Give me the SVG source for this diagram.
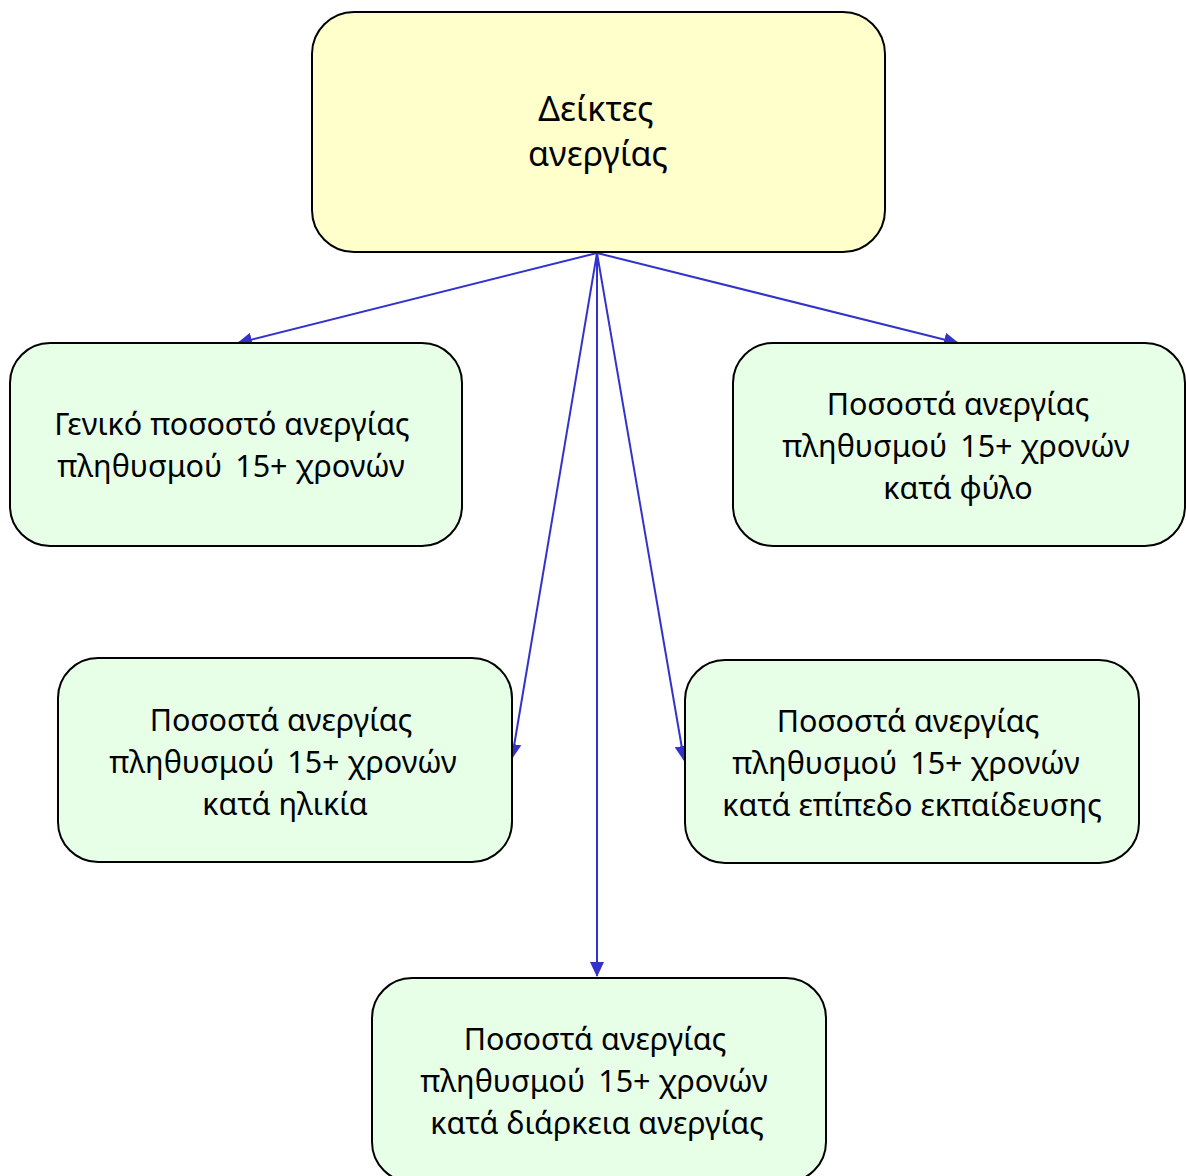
<svg xmlns="http://www.w3.org/2000/svg" width="1186" height="1176" viewBox="0 0 1186 1176">
<style>
.node{stroke:#000;stroke-width:2}
.root{fill:#FFFFCC}
.child{fill:#E6FFE6}
text{font-family:"Noto Sans","Open Sans","DejaVu Sans",sans-serif;fill:#000;text-anchor:middle}
.t{font-size:30.5px}
.rt{font-size:34px}
.edge{stroke:#3333CC;stroke-width:2;fill:none;marker-end:url(#arr)}
</style>
<defs>
<marker id="arr" markerUnits="userSpaceOnUse" markerWidth="16" markerHeight="14" refX="14" refY="7" orient="auto">
<path d="M0,0 L15,7 L0,14 Z" fill="#3333CC"/>
</marker>
</defs>
<rect width="1186" height="1176" fill="#fff"/>
<g id="connectors">
<line class="edge" x1="597" y1="253" x2="238" y2="343"/>
<line class="edge" x1="597" y1="253" x2="958" y2="343"/>
<line class="edge" x1="597" y1="253" x2="512" y2="758"/>
<line class="edge" x1="597" y1="253" x2="684" y2="760"/>
<line class="edge" x1="597" y1="253" x2="597" y2="976"/>
</g>
<g id="root">
<rect class="node root" x="312" y="12" width="573" height="240" rx="42"/>
<text class="rt" x="596" y="121">Δείκτες</text>
<text class="rt" x="598" y="166">ανεργίας</text>
</g>
<g id="general">
<rect class="node child" x="10" y="343" width="452" height="203" rx="40"/>
<text class="t" x="232" y="435">Γενικό ποσοστό ανεργίας</text>
<text class="t" x="231" y="477">πληθυσμού&#8201; 15+ χρονών</text>
</g>
<g id="sex">
<rect class="node child" x="733" y="343" width="452" height="203" rx="40"/>
<text class="t" x="958" y="415">Ποσοστά ανεργίας</text>
<text class="t" x="956" y="457">πληθυσμού&#8201; 15+ χρονών</text>
<text class="t" x="958" y="499">κατά φύλο</text>
</g>
<g id="age">
<rect class="node child" x="58" y="658" width="454" height="204" rx="40"/>
<text class="t" x="281" y="731">Ποσοστά ανεργίας</text>
<text class="t" x="283" y="773">πληθυσμού&#8201; 15+ χρονών</text>
<text class="t" x="285" y="815">κατά ηλικία</text>
</g>
<g id="education">
<rect class="node child" x="685" y="660" width="454" height="203" rx="40"/>
<text class="t" x="908" y="732">Ποσοστά ανεργίας</text>
<text class="t" x="906" y="774">πληθυσμού&#8201; 15+ χρονών</text>
<text class="t" x="912" y="816">κατά επίπεδο εκπαίδευσης</text>
</g>
<g id="duration">
<rect class="node child" x="372" y="978" width="454" height="204" rx="40"/>
<text class="t" x="595" y="1050">Ποσοστά ανεργίας</text>
<text class="t" x="594" y="1092">πληθυσμού&#8201; 15+ χρονών</text>
<text class="t" x="597" y="1134">κατά διάρκεια ανεργίας</text>
</g>
</svg>
